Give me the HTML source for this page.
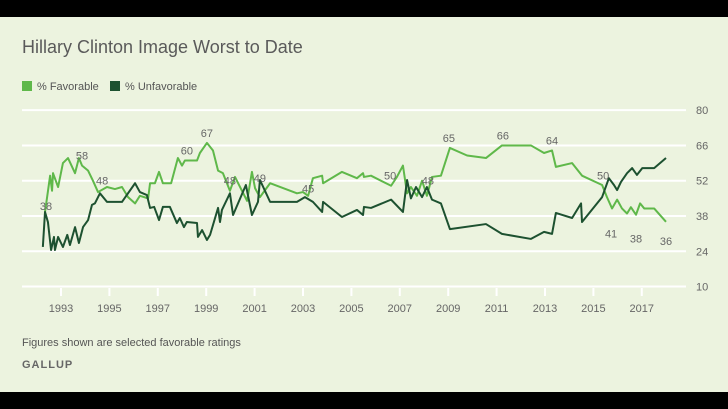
<!DOCTYPE html>
<html><head><meta charset="utf-8">
<style>
body{margin:0;width:728px;height:409px;background:#000;overflow:hidden;font-family:"Liberation Sans",sans-serif;}
#panel{position:absolute;left:0;top:17px;width:728px;height:375px;background:#ecf3df;}
</style></head><body>
<div id="panel"></div>
<svg id="chart" width="728" height="409" style="position:absolute;left:0;top:0">
<text x="22" y="53" font-size="18" fill="#5a5a5a">Hillary Clinton Image Worst to Date</text>
<rect x="22" y="81" width="10" height="10" fill="#5fb84a"/>
<text x="37" y="90" font-size="11" fill="#555">% Favorable</text>
<rect x="110" y="81" width="10" height="10" fill="#1d5130"/>
<text x="125" y="90" font-size="11" fill="#555">% Unfavorable</text>
<text x="22" y="346" font-size="11" fill="#555">Figures shown are selected favorable ratings</text>
<text x="22" y="368" font-size="11" font-weight="bold" letter-spacing="1" fill="#666">GALLUP</text>
<g id="grid"></g><g id="series"></g><g id="labels"></g>
</svg>
<script>
const yTicks=[80,66,52,38,24,10];
const xTicks=[1993,1995,1997,1999,2001,2003,2005,2007,2009,2011,2013,2015,2017];
const favYears=[1992.34,1992.55,1992.63,1992.67,1992.88,1993.08,1993.29,1993.58,1993.74,1993.87,1994.12,1994.32,1994.53,1994.90,1995.23,1995.52,1995.77,1996.06,1996.26,1996.60,1996.68,1996.88,1997.05,1997.21,1997.55,1997.83,1998.00,1998.12,1998.62,1998.74,1999.03,1999.28,1999.49,1999.69,1999.98,2000.19,2000.40,2000.69,2000.89,2001.02,2001.22,2001.64,2002.75,2003.00,2003.21,2003.41,2003.79,2003.83,2004.61,2005.23,2005.48,2005.52,2005.81,2006.64,2006.88,2007.13,2007.30,2007.46,2007.71,2007.92,2008.12,2008.33,2008.70,2009.07,2009.78,2010.56,2011.22,2012.42,2012.96,2013.29,2013.45,2014.12,2014.53,2015.36,2015.56,2015.77,2015.98,2016.18,2016.39,2016.55,2016.76,2016.93,2017.10,2017.51,2018.00];
const favVals=[39.6,54,48,55,49.5,59,61,55,61,58,56,52,47.5,49.5,48.7,49.5,45.5,43,46,45,51,51,55.5,51,51,61,58,60,60,63,67,64,56,55,48,53.5,49.5,44,55.5,49,45.5,51,47,47.5,46,53,54,51,55.5,53,55,53.5,54,50,53.5,58,47,49.5,46,52,46,53.5,54,65,62,61,66,66,63,64,57.5,59,54,50.3,45.5,41,44.5,41,39,41.5,38.5,43,41,41,35.7];
const unfYears=[1992.25,1992.34,1992.46,1992.59,1992.71,1992.75,1992.88,1993.08,1993.26,1993.37,1993.58,1993.74,1993.91,1994.12,1994.28,1994.40,1994.61,1994.90,1995.52,1996.06,1996.26,1996.55,1996.68,1996.85,1997.05,1997.21,1997.50,1997.79,1997.91,1998.08,1998.20,1998.62,1998.66,1998.83,1999.03,1999.16,1999.49,1999.57,1999.65,1999.98,2000.11,2000.64,2000.89,2001.14,2001.22,2001.64,2002.75,2003.08,2003.41,2003.79,2003.83,2004.61,2005.23,2005.48,2005.52,2005.81,2006.64,2007.13,2007.30,2007.46,2007.67,2007.92,2008.12,2008.33,2008.70,2009.07,2010.56,2011.22,2012.42,2012.96,2013.29,2013.45,2014.12,2014.49,2014.53,2015.36,2015.64,2015.85,2015.98,2016.14,2016.39,2016.60,2016.80,2017.02,2017.51,2018.00];
const unfVals=[25.7,39.6,35.6,24.5,29.7,24.5,29.7,25.7,30.5,26.5,33.6,27.3,33.6,36.4,42.4,43,47,43.6,43.6,51,47.5,46.3,41.2,41.6,36.4,41.6,41.6,35.2,37.2,33.6,35.6,35.2,29.7,32.4,28.5,30.5,41.2,35.6,40.4,47,38.4,50.3,38.4,43.6,52.3,43.6,43.6,45.5,43.6,39.6,43.6,37.6,40.4,38.4,41.6,41.2,44.5,39.6,52.3,45,49.5,45.5,49.5,44.5,43,32.8,34.8,30.9,28.9,31.7,30.9,39.2,37.2,43,35.6,45.5,53,50.3,48.3,51.5,55,57,54.3,57,57,61];
const labelYears=[1992.38,1993.87,1994.70,1998.20,1999.03,1999.98,2001.22,2003.21,2006.60,2008.16,2009.03,2011.26,2013.29,2015.40,2015.73,2016.76,2018.00];
const labelVals=[38,58,48,60,67,48,49,45,50,48,65,66,64,50,41,38,36];
const labelY=[42,62,52,64,71,52,53,49,54,52,69,70,68,54,31,29,28];
const NS='http://www.w3.org/2000/svg';
const x=t=>61+(t-1993)*24.2;
const y=v=>216-(v-38)*2.52;
const grid=document.getElementById('grid');
yTicks.forEach(v=>{
  const l=document.createElementNS(NS,'line');
  
  
  l.setAttribute('x1',22);l.setAttribute('x2',686);l.setAttribute('y1',y(v));l.setAttribute('y2',y(v));
  l.setAttribute('stroke','#fff');l.setAttribute('stroke-width','2');grid.appendChild(l);
  const t=document.createElementNS(NS,'text');
  
  
  t.setAttribute('x',696);t.setAttribute('y',y(v)+4);t.setAttribute('font-size','11');t.setAttribute('fill','#666');
  t.textContent=v;grid.appendChild(t);
});
xTicks.forEach(yr=>{
  const l=document.createElementNS(NS,'line');
  
  
  l.setAttribute('x1',x(yr));l.setAttribute('x2',x(yr));l.setAttribute('y1',288);l.setAttribute('y2',296);
  l.setAttribute('stroke','#fff');l.setAttribute('stroke-width','2');grid.appendChild(l);
  const t=document.createElementNS(NS,'text');
  
  
  t.setAttribute('x',x(yr));t.setAttribute('y',312);t.setAttribute('font-size','11');t.setAttribute('fill','#666');t.setAttribute('text-anchor','middle');
  t.textContent=yr;grid.appendChild(t);
});
const ser=document.getElementById('series');
function line(ys,vs,col,name){
  const p=document.createElementNS(NS,'polyline');
  
  
  p.setAttribute('points',ys.map((t,i)=>x(t)+','+y(vs[i])).join(' '));
  p.setAttribute('fill','none');p.setAttribute('stroke',col);p.setAttribute('stroke-width','2');p.setAttribute('stroke-linejoin','round');
  ser.appendChild(p);
}
line(favYears,favVals,'#5fb84a','favorable-line');
line(unfYears,unfVals,'#1d5130','unfavorable-line');
const lab=document.getElementById('labels');
labelYears.forEach((t,i)=>{
  const e=document.createElementNS(NS,'text');
  
  
  e.setAttribute('x',x(t));e.setAttribute('y',y(labelY[i])+4);e.setAttribute('font-size','11');e.setAttribute('fill','#666');e.setAttribute('text-anchor','middle');
  e.textContent=labelVals[i];lab.appendChild(e);
});
</script>
</body></html>
